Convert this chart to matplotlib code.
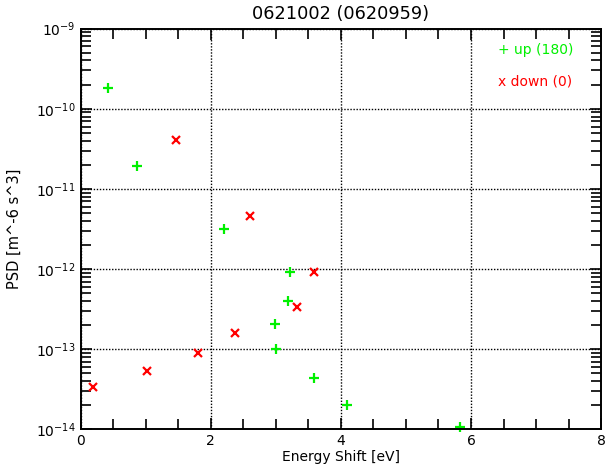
import numpy as np
import matplotlib
matplotlib.use("Agg")
import matplotlib.pyplot as plt
from matplotlib.ticker import MultipleLocator, LogLocator, NullFormatter

plt.rcParams['font.family'] = ['DejaVu Sans']

# up events (green +)
up_x = [0.42, 0.86, 2.21, 3.22, 3.18, 2.98, 3.01, 3.59, 4.10, 5.83]
up_y = [1.79e-10, 1.93e-11, 3.15e-12, 9.3e-13, 4.03e-13, 2.09e-13, 1.02e-13, 4.4e-14, 2.0e-14, 1.07e-14]
# down events (red x)
down_x = [1.46, 2.60, 3.58, 3.32, 2.37, 1.81, 1.02, 0.19]
down_y = [4.05e-11, 4.65e-12, 9.2e-13, 3.33e-13, 1.61e-13, 9.1e-14, 5.4e-14, 3.4e-14]

title = "0621002 (0620959)"
up_label = "+ up (180)"
down_label = "x down (0)"

fig = plt.figure(figsize=(6.09, 4.68), dpi=100)
ax = fig.add_axes([0.1325, 0.0823, 0.8545, 0.8567])

ax.plot(up_x, up_y, ls="none", marker="+", color="#00f000", ms=7, mew=1.6, clip_on=False)
ax.plot(down_x, down_y, ls="none", marker="x", color="#ff0000", ms=5.5, mew=1.6, clip_on=False)

ax.set_yscale("log")
ax.set_xlim(0, 8)
ax.set_ylim(1e-14, 1e-9)

ax.xaxis.set_major_locator(MultipleLocator(2))
ax.xaxis.set_minor_locator(MultipleLocator(0.5))
ax.yaxis.set_major_locator(LogLocator(base=10, numticks=10))
ax.yaxis.set_minor_locator(LogLocator(base=10, subs=np.arange(2, 10), numticks=20))
ax.yaxis.set_minor_formatter(NullFormatter())

ax.tick_params(which="both", direction="in", top=True, right=True, width=1.2, labelsize=10)
ax.tick_params(which="major", length=8)
ax.tick_params(which="minor", length=7)
for s in ax.spines.values():
    s.set_linewidth(1.4)

ax.grid(True, which="major", color="black", ls=(0, (1, 1.2)), lw=1.0)

ax.set_title(title, fontsize=12.8, pad=7)
ax.set_xlabel("Energy Shift [eV]", fontsize=10, labelpad=1)
ax.set_ylabel("PSD [m^-6 s^3]", fontsize=10.5, labelpad=10)

ax.text(0.802, 0.946, up_label, transform=ax.transAxes, color="#00f000", fontsize=10, va="center")
ax.text(0.802, 0.867, down_label, transform=ax.transAxes, color="#ff0000", fontsize=10, va="center")

fig.savefig("out.png", dpi=100)
